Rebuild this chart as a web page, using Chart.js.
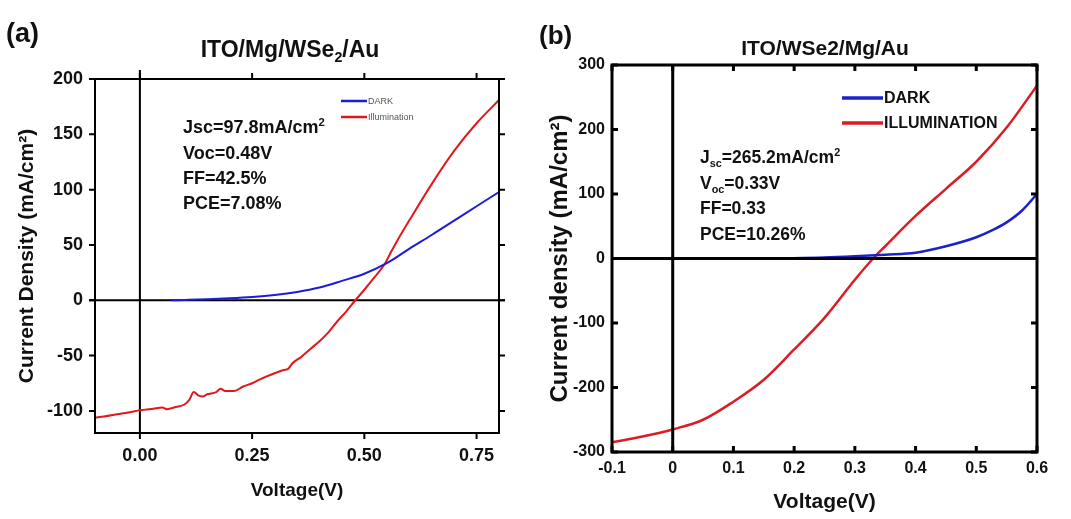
<!DOCTYPE html>
<html>
<head>
<meta charset="utf-8">
<script src="https://cdn.jsdelivr.net/npm/chart.js@4.4.1/dist/chart.umd.min.js"></script>
<style>
  body { margin: 0; background: #fff; }
  #wrap { position: relative; width: 1071px; height: 519px; }
  canvas { position: absolute; top: 0; }
  #chartA { left: 0; }
  #chartB { left: 530px; }
</style>
</head>
<body>
<div id="wrap">
  <canvas id="chartA" width="530" height="519"></canvas>
  <canvas id="chartB" width="541" height="519"></canvas>
</div>
<script>
// (a) ITO/Mg/WSe2/Au
const voltDarkA = [0.07, 0.1, 0.15, 0.2, 0.25, 0.3, 0.35, 0.4, 0.45, 0.5, 0.55, 0.6, 0.65, 0.7, 0.75, 0.8];
const jDarkA = [0, 0.3, 0.9, 1.8, 3, 4.8, 7.5, 11.5, 17.5, 24, 33.5, 46.5, 59, 72, 85, 97.8];
const voltLightA = [-0.1, -0.08, -0.05, -0.02, 0, 0.03, 0.05, 0.06, 0.08, 0.1, 0.11, 0.12, 0.13, 0.14, 0.15,
  0.17, 0.18, 0.19, 0.21, 0.23, 0.25, 0.27, 0.3, 0.32, 0.33, 0.34, 0.36, 0.38, 0.4, 0.42, 0.44, 0.46, 0.48,
  0.5, 0.52, 0.545, 0.56, 0.575, 0.6, 0.65, 0.7, 0.75, 0.8];
const jLightA = [-106, -105, -103, -101, -99.5, -98, -97, -98.5, -96.5, -94, -90, -83, -86, -87, -85,
  -83, -80, -82, -82, -78, -75, -71, -66, -63, -62, -57, -51, -44, -37, -29, -19, -10, 0,
  9.5, 19.5, 32.5, 44, 55, 72, 105, 135, 160, 181];
const xTicksA = [0, 0.25, 0.5, 0.75];
const yTicksA = [-100, -50, 0, 50, 100, 150, 200];

// (b) ITO/WSe2/Mg/Au
const voltDarkB = [-0.1, 0, 0.1, 0.2, 0.25, 0.3, 0.35, 0.4, 0.45, 0.5, 0.53, 0.55, 0.575, 0.6];
const jDarkB = [0, 0, 0, 0.5, 1.5, 3.5, 6, 9, 19, 33, 45.5, 56, 74, 100];
const voltLightB = [-0.1, -0.05, 0, 0.05, 0.1, 0.15, 0.2, 0.25, 0.3, 0.33, 0.35, 0.4, 0.45, 0.5, 0.55, 0.6];
const jLightB = [-285, -276, -265, -250, -222, -188, -141, -92, -33, 0, 19, 66, 108, 150, 203, 268];
const xTicksB = [-0.1, 0, 0.1, 0.2, 0.3, 0.4, 0.5, 0.6];
const yTicksB = [-300, -200, -100, 0, 100, 200, 300];

const FONT = '"Liberation Sans", Arial, sans-serif';

function toPoints(xs, ys) {
  return xs.map((x, i) => ({ x: x, y: ys[i] }));
}

// draws text pieces with sub/superscripts, baseline at y
function richText(ctx, parts, x, y, size, align) {
  const pieceSize = p => (p[1] ? size * 0.62 : size);
  let w = 0;
  parts.forEach(p => {
    ctx.font = 'bold ' + pieceSize(p) + 'px ' + FONT;
    w += ctx.measureText(p[0]).width;
  });
  let cx = align === 'center' ? x - w / 2 : x;
  ctx.textAlign = 'left';
  ctx.textBaseline = 'alphabetic';
  parts.forEach(p => {
    ctx.font = 'bold ' + pieceSize(p) + 'px ' + FONT;
    let dy = 0;
    if (p[1] === 'sub') dy = size * 0.22;
    if (p[1] === 'sup') dy = -size * 0.4;
    ctx.fillText(p[0], cx, y + dy);
    cx += ctx.measureText(p[0]).width;
  });
}

function drawZero(chart, o) {
  const { left, right, top, bottom } = chart.chartArea;
  const x0 = chart.scales.x.getPixelForValue(0);
  const y0 = chart.scales.y.getPixelForValue(0);
  const ctx = chart.ctx;
  ctx.save();
  ctx.strokeStyle = '#000';
  ctx.lineWidth = o.zeroWidth;
  ctx.beginPath();
  ctx.moveTo(left - o.zeroExtendX, y0);
  ctx.lineTo(right + o.zeroExtendX, y0);
  ctx.moveTo(x0, top - o.zeroExtendTop);
  ctx.lineTo(x0, bottom);
  ctx.stroke();
  ctx.restore();
}

const framePlugin = {
  id: 'frame',
  beforeDatasetsDraw(chart, args, o) {
    if (!o.zeroOnTop) drawZero(chart, o);
  },
  afterDatasetsDraw(chart, args, o) {
    if (o.zeroOnTop) drawZero(chart, o);
    const { left, right, top, bottom } = chart.chartArea;
    const ctx = chart.ctx;
    const t = o.tickLen * o.tickDir;
    ctx.save();
    ctx.strokeStyle = '#000';
    ctx.lineWidth = o.frameWidth;
    ctx.strokeRect(left, top, right - left, bottom - top);
    ctx.beginPath();
    chart.scales.x.ticks.forEach(tk => {
      const px = chart.scales.x.getPixelForValue(tk.value);
      ctx.moveTo(px, bottom); ctx.lineTo(px, bottom + t);
      ctx.moveTo(px, top); ctx.lineTo(px, top - t);
    });
    chart.scales.y.ticks.forEach(tk => {
      const py = chart.scales.y.getPixelForValue(tk.value);
      ctx.moveTo(left, py); ctx.lineTo(left - t, py);
      ctx.moveTo(right, py); ctx.lineTo(right + t, py);
    });
    ctx.stroke();
    ctx.restore();
  },
  afterDraw(chart, args, o) {
    const ctx = chart.ctx;
    ctx.save();
    ctx.fillStyle = '#111';
    richText(ctx, [[o.panel]], o.panelX, o.panelY, o.panelSize, 'left');
    richText(ctx, o.title, o.titleX, o.titleY, o.titleSize, 'center');
    o.notes.forEach((line, i) => richText(ctx, line, o.noteX, o.noteY[i], o.noteSize, 'left'));
    // legend
    const lg = o.legend;
    chart.data.datasets.forEach((ds, i) => {
      ctx.strokeStyle = ds.borderColor;
      ctx.lineWidth = lg.width;
      ctx.beginPath();
      ctx.moveTo(lg.x1, lg.ys[i]);
      ctx.lineTo(lg.x2, lg.ys[i]);
      ctx.stroke();
      ctx.fillStyle = lg.color;
      ctx.font = lg.font + ' ' + FONT;
      ctx.textAlign = 'left';
      ctx.textBaseline = 'middle';
      ctx.fillText(ds.label, lg.x2 + 1, lg.ys[i] + 1);
    });
    ctx.restore();
  }
};

function axisFont(size) {
  return { family: FONT, size: size, weight: 'bold' };
}

new Chart(document.getElementById('chartA'), {
  type: 'line',
  data: {
    datasets: [
      { label: 'DARK', data: toPoints(voltDarkA, jDarkA), borderColor: '#1c1cd8', borderWidth: 2,
        pointRadius: 0, cubicInterpolationMode: 'monotone' },
      { label: 'Illumination', data: toPoints(voltLightA, jLightA), borderColor: '#e2171c', borderWidth: 2,
        pointRadius: 0, cubicInterpolationMode: 'monotone' }
    ]
  },
  options: {
    responsive: false,
    animation: false,
    devicePixelRatio: 1,
    layout: { padding: { left: 0, top: 79, right: 31, bottom: 0 } },
    plugins: {
      legend: { display: false },
      tooltip: { enabled: false },
      frame: {
        frameWidth: 2, zeroWidth: 2, tickLen: 6, tickDir: 1, zeroOnTop: false,
        zeroExtendX: 6, zeroExtendTop: 9,
        panel: '(a)', panelX: 6, panelY: 42, panelSize: 27,
        title: [['ITO/Mg/WSe'], ['2', 'sub'], ['/Au']], titleX: 290, titleY: 57, titleSize: 23,
        notes: [[['Jsc=97.8mA/cm'], ['2', 'sup']], [['Voc=0.48V']], [['FF=42.5%']], [['PCE=7.08%']]],
        noteX: 183, noteY: [133, 159, 184, 209], noteSize: 18,
        legend: { x1: 341, x2: 367, ys: [101, 117], width: 2.5, font: 'normal 9px', color: '#555' }
      }
    },
    scales: {
      x: {
        type: 'linear', min: -0.1, max: 0.8,
        afterBuildTicks: s => { s.ticks = xTicksA.map(v => ({ value: v })); },
        afterFit: s => { s.height = 86; },
        grid: { display: false, drawTicks: false },
        border: { display: false },
        ticks: { padding: 12, color: '#111', font: axisFont(18), callback: v => v.toFixed(2) },
        title: { display: true, text: 'Voltage(V)', color: '#111', font: axisFont(19), padding: { bottom: 17 } }
      },
      y: {
        type: 'linear', min: -120, max: 200,
        afterBuildTicks: s => { s.ticks = yTicksA.map(v => ({ value: v })); },
        afterFit: s => { s.width = 95; },
        grid: { display: false, drawTicks: false },
        border: { display: false },
        ticks: { padding: 12, color: '#111', font: axisFont(18) },
        title: { display: true, text: 'Current Density (mA/cm²)', color: '#111', font: axisFont(21), padding: { top: 15 } }
      }
    }
  },
  plugins: [framePlugin]
});

new Chart(document.getElementById('chartB'), {
  type: 'line',
  data: {
    datasets: [
      { label: 'DARK', data: toPoints(voltDarkB, jDarkB), borderColor: '#1a22cc', borderWidth: 2.5,
        pointRadius: 0, cubicInterpolationMode: 'monotone' },
      { label: 'ILLUMINATION', data: toPoints(voltLightB, jLightB), borderColor: '#d81e24', borderWidth: 2.5,
        pointRadius: 0, cubicInterpolationMode: 'monotone' }
    ]
  },
  options: {
    responsive: false,
    animation: false,
    devicePixelRatio: 1,
    layout: { padding: { left: 0, top: 65, right: 34, bottom: 0 } },
    plugins: {
      legend: { display: false },
      tooltip: { enabled: false },
      frame: {
        frameWidth: 3, zeroWidth: 3, tickLen: 6, tickDir: -1, zeroOnTop: true,
        zeroExtendX: 0, zeroExtendTop: 0,
        panel: '(b)', panelX: 9, panelY: 44, panelSize: 26,
        title: [['ITO/WSe2/Mg/Au']], titleX: 295, titleY: 55, titleSize: 21,
        notes: [[['J'], ['sc', 'sub'], ['=265.2mA/cm'], ['2', 'sup']], [['V'], ['oc', 'sub'], ['=0.33V']],
          [['FF=0.33']], [['PCE=10.26%']]],
        noteX: 170, noteY: [163, 189, 214, 240], noteSize: 17.5,
        legend: { x1: 312, x2: 353, ys: [98, 123], width: 3.5, font: 'bold 16px', color: '#111' }
      }
    },
    scales: {
      x: {
        type: 'linear', min: -0.1, max: 0.6,
        afterBuildTicks: s => { s.ticks = xTicksB.map(v => ({ value: v })); },
        afterFit: s => { s.height = 67; },
        grid: { display: false, drawTicks: false },
        border: { display: false },
        ticks: { padding: 7, color: '#111', font: axisFont(16), callback: v => (v === 0 ? '0' : v.toFixed(1)) },
        title: { display: true, text: 'Voltage(V)', color: '#111', font: axisFont(21), padding: { bottom: 4 } }
      },
      y: {
        type: 'linear', min: -300, max: 300,
        afterBuildTicks: s => { s.ticks = yTicksB.map(v => ({ value: v })); },
        afterFit: s => { s.width = 82; },
        grid: { display: false, drawTicks: false },
        border: { display: false },
        ticks: { padding: 7, color: '#111', font: axisFont(16) },
        title: { display: true, text: 'Current density (mA/cm²)', color: '#111', font: axisFont(24), padding: { top: 16 } }
      }
    }
  },
  plugins: [framePlugin]
});
</script>
</body>
</html>
